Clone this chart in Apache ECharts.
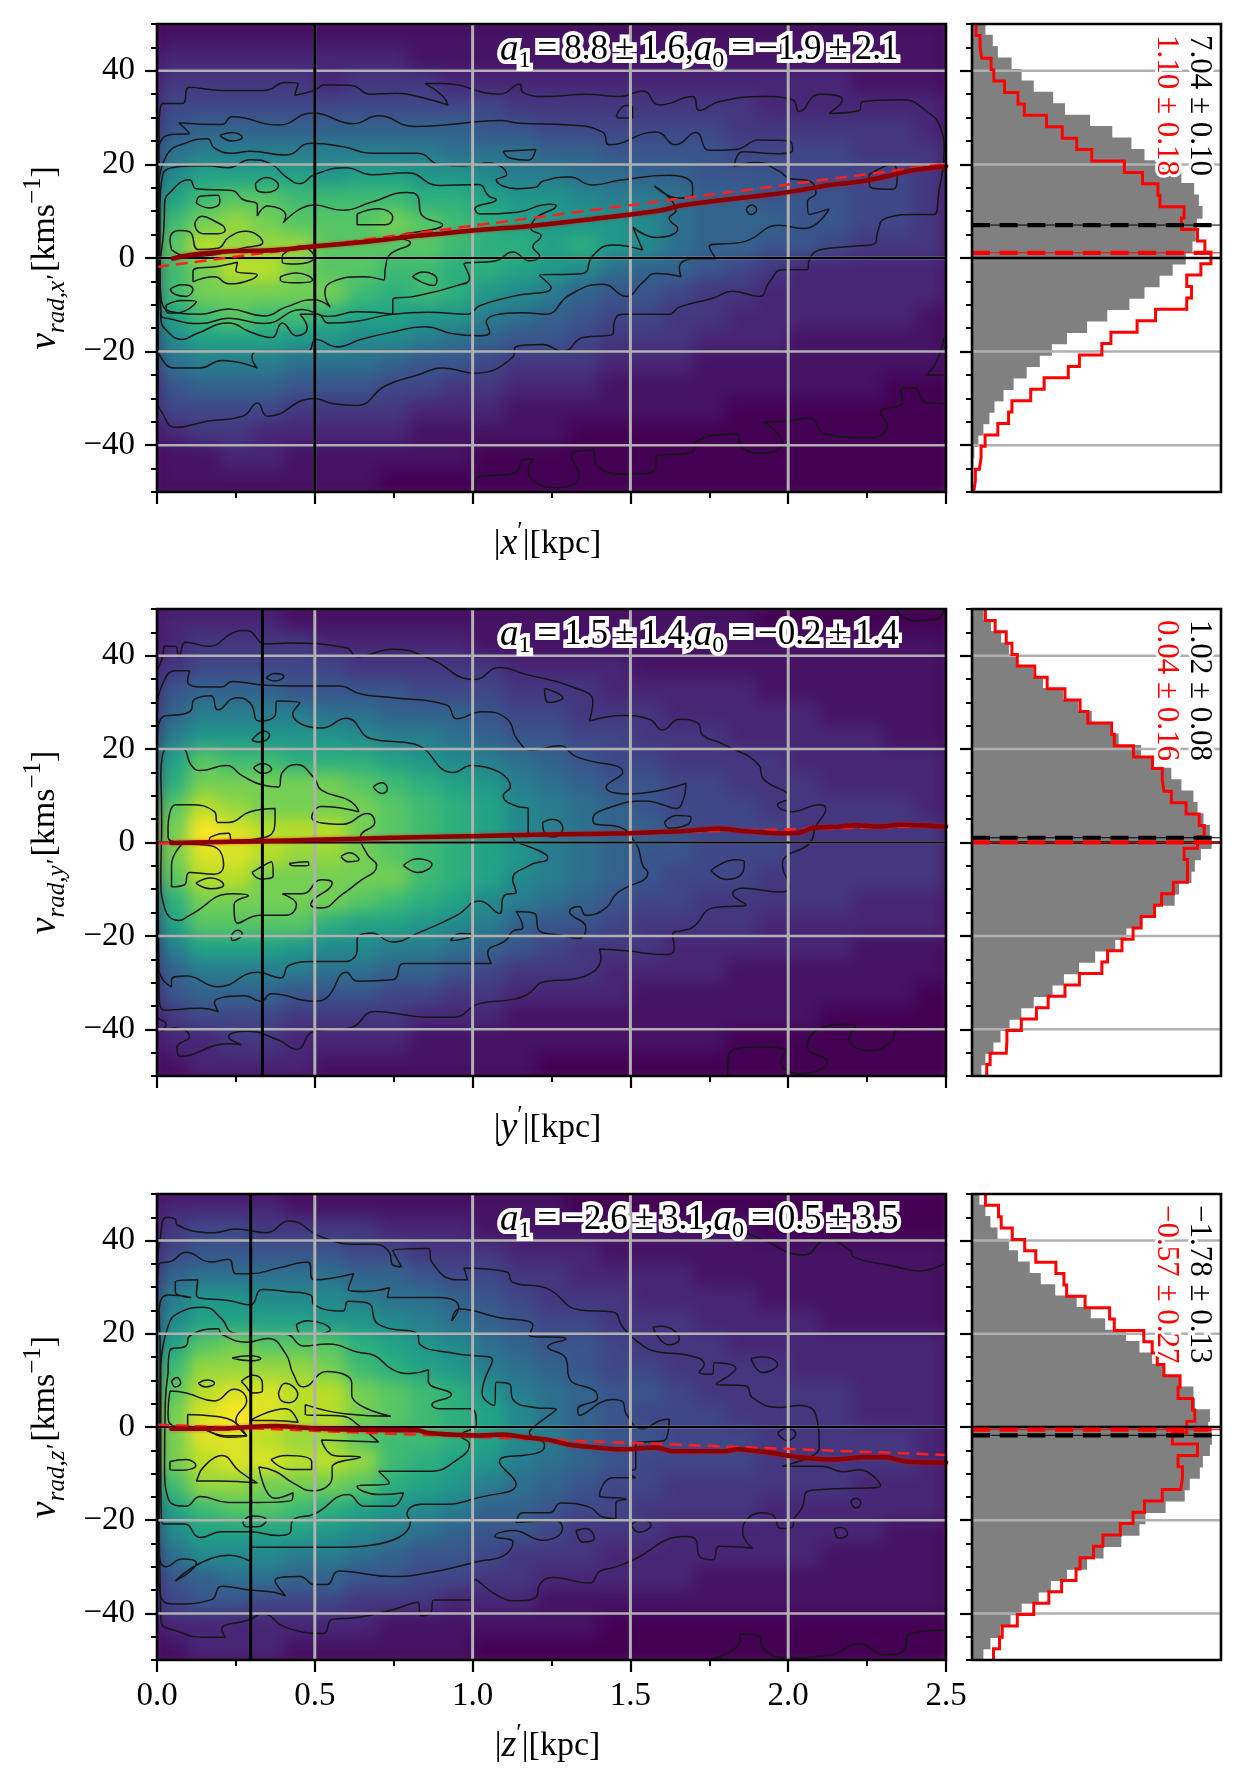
<!DOCTYPE html>
<html><head><meta charset="utf-8">
<style>html,body{margin:0;padding:0;background:#fff}#c{width:1246px;height:1784px}</style>
<script src="https://cdn.jsdelivr.net/npm/echarts@6/dist/echarts.min.js"></script>
</head><body><div id="c"></div>
<script>
const xBins=['0.05','0.15','0.25','0.35','0.45','0.55','0.65','0.75','0.85','0.95','1.05','1.15','1.25','1.35','1.45','1.55','1.65','1.75','1.85','1.95','2.05','2.15','2.25','2.35','2.45'];
const vBins=['47.5','42.5','37.5','32.5','27.5','22.5','17.5','12.5','7.5','2.5','-2.5','-7.5','-12.5','-17.5','-22.5','-27.5','-32.5','-37.5','-42.5','-47.5'];
const viridis=['#440154','#482475','#414487','#355f8d','#2a788e','#21918c','#22a884','#44bf70','#7ad151','#bddf26','#fde725'];
const heat1=[
[1,1,1,1,1,1,1,1,1,1,1,1,1,1,1,1,1,1,1,1,1,1,1,1,1],
[2,2,2,2,2,2,2,2,1,1,1,1,1,1,1,1,1,1,1,1,1,1,1,1,1],
[3,3,3,3,3,2,3,3,3,2,2,2,2,2,2,2,2,2,2,2,2,2,1,1,1],
[4,4,4,4,4,4,4,4,4,4,4,3,3,3,3,3,3,3,3,2,2,2,2,2,2],
[5,6,6,6,6,6,6,6,6,6,5,5,4,4,4,4,4,4,3,3,3,3,3,3,2],
[7,8,8,8,8,8,8,8,8,7,7,7,6,6,5,5,5,5,4,4,4,4,3,3,3],
[9,11,11,11,11,10,11,11,10,10,9,8,8,7,7,6,6,5,5,5,4,4,4,4,3],
[11,13,14,14,13,13,13,13,12,12,11,10,10,9,8,8,7,6,6,5,5,5,4,4,3],
[13,15,16,15,14,14,14,15,14,13,12,11,10,10,10,9,7,6,6,6,5,5,4,4,3],
[14,17,16,16,16,14,14,14,14,13,12,12,11,12,10,9,7,6,6,5,5,4,3,3,3],
[13,15,17,17,15,14,14,13,13,12,12,11,10,9,7,6,6,5,4,3,2,2,2,2,2],
[13,15,15,15,15,15,13,12,13,12,10,9,8,6,5,5,4,3,3,2,2,2,2,2,2],
[11,13,14,13,13,12,11,11,10,10,8,7,6,5,4,4,3,3,2,2,2,2,2,2,1],
[9,11,11,11,10,10,9,9,8,7,6,5,5,4,3,3,3,2,2,2,1,1,1,1,1],
[7,8,8,8,7,7,7,6,5,5,4,3,3,3,2,2,2,1,1,1,1,1,1,1,1],
[5,6,6,6,5,5,5,4,4,3,3,2,2,2,1,1,1,1,1,1,1,1,1,0,0],
[4,4,4,4,3,3,3,3,2,2,2,1,1,1,1,1,1,1,0,0,0,0,0,0,0],
[2,3,3,2,2,2,2,2,1,1,1,1,1,0,0,0,0,0,0,0,0,0,0,0,0],
[1,1,2,2,1,1,1,1,1,1,0,0,0,0,0,0,0,0,0,0,0,0,0,0,0],
[1,1,1,1,1,1,1,0,0,0,0,0,0,0,0,0,0,0,0,0,0,0,0,0,0]];
const heat2=[
[2,2,2,2,1,1,1,1,1,1,1,1,1,1,1,1,1,1,1,0,0,0,0,0,0],
[2,3,3,3,3,2,2,2,2,2,1,1,1,1,1,1,1,1,1,1,1,1,1,1,1],
[3,4,4,4,4,4,3,3,3,3,3,2,2,2,2,1,1,1,1,1,1,1,1,1,1],
[5,6,6,6,5,5,5,5,4,4,4,3,3,3,2,2,2,2,2,1,1,1,1,1,1],
[6,8,8,8,8,7,7,6,6,6,5,4,4,3,3,3,2,2,2,2,2,1,1,1,1],
[8,10,10,10,10,10,9,8,8,7,6,5,5,4,4,3,3,3,2,2,2,2,2,1,1],
[11,14,13,13,12,12,12,11,10,9,8,7,6,5,4,4,3,3,3,3,2,2,2,2,2],
[12,15,15,15,15,15,14,13,12,11,10,8,7,6,5,5,4,4,3,3,3,2,2,2,2],
[14,17,16,15,15,15,15,14,13,12,11,9,8,7,6,5,4,4,4,3,3,3,3,3,2],
[15,19,18,17,17,17,15,14,13,12,11,9,8,7,6,6,5,4,4,4,3,3,3,3,3],
[15,18,18,17,16,16,15,14,13,12,11,10,8,7,6,5,5,4,4,4,3,3,3,3,3],
[14,17,17,15,15,15,15,15,13,12,11,9,8,7,6,5,4,4,4,3,3,3,3,3,3],
[12,15,15,15,15,15,14,13,12,11,9,8,7,6,5,4,4,3,3,3,3,3,2,2,2],
[11,14,14,14,14,12,11,11,10,9,8,6,5,5,4,3,3,3,3,2,2,2,2,2,2],
[8,11,11,11,10,9,9,8,8,7,6,5,4,3,3,3,2,2,2,2,2,2,1,1,1],
[6,8,8,8,8,7,7,6,6,5,4,3,3,3,2,2,2,2,1,1,1,1,1,1,1],
[5,6,6,6,5,5,5,4,4,3,3,2,2,2,2,1,1,1,1,1,1,1,1,1,0],
[3,4,4,4,3,3,3,3,2,2,2,1,1,1,1,1,1,1,1,1,1,0,0,0,0],
[2,2,3,3,2,2,2,2,1,1,1,1,1,1,1,1,1,1,0,0,0,0,0,0,0],
[1,2,2,2,2,1,1,1,1,1,1,1,0,0,0,0,0,0,0,0,0,0,0,0,0]];
const heat3=[
[2,2,2,2,1,1,1,1,1,1,1,1,1,0,0,0,0,0,0,0,0,0,0,0,0],
[3,4,4,3,3,3,3,2,2,2,1,1,1,1,1,1,1,1,1,0,0,0,0,0,0],
[4,5,5,5,5,5,4,4,3,3,3,2,2,2,1,1,1,1,1,1,1,1,1,1,1],
[6,7,7,7,7,7,6,6,5,4,4,3,3,2,2,2,2,1,1,1,1,1,1,1,1],
[8,10,10,9,9,9,8,7,7,6,5,4,3,3,3,2,2,2,2,1,1,1,1,1,1],
[9,11,11,11,11,10,10,9,8,7,6,5,4,4,3,3,3,2,2,2,2,1,1,1,1],
[11,14,15,14,14,14,12,11,10,9,7,6,5,5,4,3,3,3,2,2,2,2,2,2,2],
[13,16,16,16,16,15,13,12,11,10,8,7,6,5,4,4,3,3,3,3,2,2,2,2,2],
[14,17,18,18,17,17,15,14,13,12,10,8,7,6,5,5,4,3,3,3,3,3,2,2,2],
[15,18,19,18,17,17,15,14,13,12,11,9,7,6,5,4,4,4,3,3,3,3,2,2,2],
[15,18,18,17,16,16,14,13,13,12,11,9,8,6,5,5,4,4,4,3,3,3,3,3,2],
[15,17,18,18,17,17,16,13,12,11,10,8,7,6,5,4,4,4,4,3,3,3,3,3,2],
[13,16,16,15,15,15,14,12,11,10,8,7,6,5,4,4,3,3,3,3,3,3,2,2,2],
[11,13,14,14,13,12,11,10,9,8,6,6,5,4,4,3,3,3,3,2,2,2,2,2,2],
[9,11,11,11,11,10,9,8,7,6,5,5,4,3,3,3,2,2,2,2,2,2,2,1,1],
[7,9,9,9,8,8,7,6,5,5,4,3,3,3,2,2,2,2,2,2,2,1,1,1,1],
[5,6,7,7,6,6,5,5,4,4,3,3,2,2,2,2,2,1,1,1,1,1,1,1,1],
[4,5,5,4,4,4,3,3,3,2,2,2,1,1,1,1,1,1,1,1,1,1,1,1,1],
[2,2,2,2,2,2,2,1,1,1,1,1,1,1,0,0,0,0,0,0,0,0,0,0,0],
[1,2,2,2,1,1,1,1,1,1,0,0,0,0,0,0,0,0,0,0,0,0,0,0,0]];

const contours1=[
[[.007,28.9],[.018,33],[.08,33],[.103,36.5],[.205,35.8],[.34,35.8],[.408,37.5],[.447,37.3],[.436,34.8],[.498,35.8],[.532,37],[.611,36.9],[.679,35],[.758,35.2],[.826,34.5],[.922,32.7],[.905,34.6],[.849,37.3],[.905,37.3],[1.086,35],[1.149,37.2],[1.159,35.4],[1.233,34.5],[1.36,35],[1.465,34.5],[1.539,35.7],[1.592,32.7],[1.697,34.5],[1.718,31.5],[1.78,33.4],[1.929,34.5],[2.014,33.8],[2.035,31.3],[2.098,35],[2.172,33.8],[2.13,30.9],[2.225,31.5],[2.235,33.4],[2.362,33.8],[2.436,31.5],[2.483,27.7],[2.494,23],[2.477,13.9],[2.462,9.3],[2.404,9.3],[2.309,8.5],[2.283,5.5],[2.277,3.2],[2.185,2.4],[2.098,1.7],[2.066,-.6],[2.061,-2.5],[1.982,-2.5],[1.94,-5.2],[1.908,-8.2],[1.824,-7.1],[1.761,-8.6],[1.655,-10.5],[1.623,-12],[1.476,-12],[1.449,-13.6],[1.444,-16.3],[1.349,-17],[1.286,-20],[1.222,-18.5],[1.138,-18.9],[1.127,-21.2],[1.007,-24.6],[.905,-23.5],[.826,-25],[.724,-27.3],[.634,-31.5],[.555,-31.1],[.498,-30],[.351,-33.8],[.318,-31],[.272,-33.8],[.159,-34.9],[.058,-36.2],[.012,-32.6],[.003,-31.1]],
[[0,21.6],[.012,25],[.046,26.4],[.103,26.6],[.069,28.9],[.205,28.5],[.238,30.2],[.385,28.4],[.493,31],[.622,28.7],[.702,30.4],[.815,28.1],[.928,28.5],[1.086,29.4],[1.149,28.8],[1.307,28.4],[1.412,26.9],[1.433,24.2],[1.581,26.9],[1.644,24.2],[1.707,26.8],[1.75,23],[1.834,23.2],[1.908,25.2],[2.004,25],[2.014,23],[1.972,22.3],[1.856,22.7],[1.829,19.6],[1.9,20.4],[1.972,18.5],[2.004,17],[2.061,16.6],[2.088,13.9],[2.061,12],[2.066,9.3],[2.13,10.5],[2.051,6.3],[1.971,7],[1.866,3.6],[1.75,2.4],[1.771,-.2],[1.697,-.2],[1.655,-2.1],[1.66,-4],[1.581,-3.3],[1.539,-5.2],[1.487,-8.2],[1.412,-5.6],[1.307,-7.9],[1.233,-12],[1.159,-11.7],[1.043,-13.6],[1.054,-15.9],[1.018,-16.6],[.939,-16.2],[.849,-14.7],[.747,-15.8],[.645,-17.4],[.572,-19],[.504,-17.4],[.476,-20],[.318,-20],[.301,-21.2],[.318,-23.5],[.205,-21.9],[.137,-23.5],[.058,-23.5],[.012,-21.2],[0,-18]],
[[.007,17],[.035,22.4],[.08,24.3],[.159,25.5],[.182,23.5],[.238,22.4],[.295,22.8],[.408,22],[.487,24.5],[.589,23.8],[.679,22.4],[.826,22.4],[.894,20],[.973,19.7],[1.052,20.3],[1.108,17.8],[1.075,16.7],[1.142,14.8],[1.2,15.1],[1.222,16.4],[1.307,17.3],[1.381,15.6],[1.466,16.6],[1.623,17.7],[1.697,15.4],[1.697,13.5],[1.655,12.8],[1.576,15.4],[1.644,10.1],[1.623,8.5],[1.65,6.3],[1.581,4.4],[1.508,6.6],[1.539,1.7],[1.444,2.8],[1.381,.5],[1.349,-3.3],[1.212,-3.7],[1.249,-6.3],[1.127,-8.2],[1.022,-10.2],[.984,-12],[.86,-11.6],[.747,-12],[.634,-13.5],[.543,-13.9],[.51,-12],[.453,-12],[.476,-15],[.442,-16.6],[.397,-13.9],[.363,-17],[.295,-15.8],[.227,-13.9],[.125,-16.2],[.08,-17.4],[.035,-15.8],[.012,-12.8]],
[[.009,10.2],[.024,18.6],[.159,19.7],[.227,19.3],[.295,21],[.363,20],[.408,17.4],[.453,15.9],[.498,17.8],[.6,19.3],[.679,17.8],[.792,18.2],[.894,15.5],[1.018,15.7],[1.052,13.2],[1.075,12.5],[1.007,10.5],[1.024,9.4],[1.142,9.8],[1.244,11.5],[1.265,11.2],[1.2,8.5],[1.185,6.3],[1.217,4.7],[1.191,2.4],[1.212,.5],[1.18,-.6],[1.127,1.3],[1.075,-.6],[.973,-1.3],[.99,-4.4],[.95,-5.9],[.815,-8.2],[.747,-8.9],[.747,-12],[.634,-11.5],[.54,-12.5],[.46,-11],[.34,-14],[.227,-12.9],[.137,-14],[.04,-13],[.012,-12],[.007,-2.8],[.009,3.3]],
[[.024,11.7],[.035,13.6],[.103,16.7],[.125,14.8],[.238,14.4],[.272,12.5],[.318,11.3],[.318,9],[.351,11.1],[.408,9],[.4,7.5],[.498,11.3],[.589,10.2],[.679,11.9],[.792,14],[.826,13.2],[.837,9.4],[.905,7.1],[.769,4.4],[.803,3.3],[.736,.6],[.724,-2],[.719,-4.7],[.656,-4],[.555,-5.1],[.532,-7.4],[.549,-10.5],[.498,-8.9],[.408,-10.5],[.34,-12.4],[.227,-10.9],[.137,-12],[.046,-11.5],[.012,-8.2],[.009,-2.8],[.021,5.6]],
[[.125,11.7],[.137,13.2],[.193,13.4],[.199,12],[.166,10.7]],
[[.12,7.5],[.142,8.9],[.171,8.3],[.216,6],[.193,5.2],[.148,5.2],[.123,6.3]],
[[.046,1.8],[.041,4],[.069,5.9],[.103,5.6],[.131,1.8],[.193,2.1],[.227,4.4],[.283,5.7],[.335,3.3],[.27,2.1],[.19,.8],[.1,.3]],
[[.041,-6.7],[.08,-5.7],[.114,-6.7],[.092,-8.2],[.058,-7.8]],
[[.029,-10.1],[.08,-9.1],[.125,-9.3],[.092,-11.2],[.046,-11.8],[.029,-11.2]],
[[.114,-5.1],[.114,-2.8],[.2,-1.7],[.255,-.9],[.25,-2.8],[.318,-3.6],[.295,-4.7],[.227,-5.5],[.182,-4]],
[[.312,15.9],[.346,17.2],[.385,15.5],[.346,14],[.318,14.4]],
[[.634,9.4],[.702,10.5],[.747,8.6],[.724,7.1],[.634,7.1]],
[[.391,-4],[.442,-3.2],[.493,-4.7],[.442,-5.3],[.391,-4.7]],
[[.397,.6],[.453,2.5],[.498,.2],[.442,-1.3],[.397,-.9]],
[[.809,-4],[.843,-3],[.887,-4.7],[.876,-5.9],[.837,-5.1]],
[[.199,26.2],[.238,26.8],[.27,25.8],[.238,25]],
[[1.097,22.8],[1.2,23.2],[1.177,20.9],[1.12,21.3]],
[[1.455,30.3],[1.486,32.6],[1.507,32.2],[1.507,29.9],[1.465,29.9]],
[[2.256,17.8],[2.33,20],[2.345,17],[2.33,14.7],[2.261,15.1]],
[[1.867,10.5],[1.885,11.3],[1.9,10.3],[1.88,9.3]]];
const open1=[
[[1.007,-49.8],[1.018,-46.8],[1.131,-46],[1.165,-43],[1.193,-43],[1.176,-45.3],[1.21,-48.3],[1.265,-49.1],[1.338,-46.4],[1.312,-42.2],[1.381,-41],[1.391,-44],[1.486,-46.2],[1.581,-44.9],[1.581,-42.6],[1.697,-41.4],[1.708,-39.2],[1.834,-37.6],[1.855,-40.7],[1.919,-41.7],[1.982,-39.5],[1.924,-35],[1.972,-35],[2.066,-34.2],[2.119,-37.6],[2.256,-38.4],[2.314,-35.7],[2.293,-33],[2.362,-30.8],[2.356,-28.1],[2.398,-27.7],[2.436,-30.8],[2.494,-31.1]],
[[2.494,-25],[2.436,-25],[2.468,-22.4],[2.494,-17]]];

const contours2=[
[[0,36.8],[.018,39.8],[.024,42],[.058,42],[.069,39.8],[.092,42.9],[.165,42],[.238,44.8],[.283,45.4],[.345,42.5],[.42,42.7],[.6,41.7],[.634,39.8],[.747,41.4],[.86,39.5],[1.007,34.9],[1.085,37.5],[1.169,36],[1.317,33.3],[1.381,30.2],[1.37,26],[1.476,27.2],[1.56,26.4],[1.602,24.1],[1.655,26.4],[1.713,25.6],[1.729,23],[1.792,21.1],[1.908,16.5],[1.919,13.8],[2.003,9.6],[1.966,8.1],[2.014,6.6],[2.098,8.1],[2.119,7.3],[2.088,3.5],[2.066,-.3],[1.992,-3],[1.982,-4.9],[2.003,-9.5],[1.982,-10.6],[1.856,-9.8],[1.824,-11],[1.866,-13.3],[1.761,-14],[1.697,-18.2],[1.634,-19.8],[1.639,-22.8],[1.613,-24],[1.486,-23.2],[1.402,-22.8],[1.407,-24.7],[1.317,-29.3],[1.233,-29.7],[1.169,-32.7],[1.117,-33.7],[1.022,-34.5],[.939,-37.4],[.86,-37.4],[.69,-36.2],[.611,-39.7],[.498,-40.4],[.442,-44.3],[.385,-42.3],[.283,-40.4],[.227,-41.6],[.267,-43.3],[.227,-43.1],[.075,-45.8],[.063,-43.9],[.103,-41.6],[.058,-39.7],[.012,-40.4],[.029,-38.9],[0,-37]],
[[0,28.7],[.018,34],[.058,36.8],[.103,36.8],[.097,34.5],[.148,33.3],[.205,33.3],[.238,34.5],[.335,33.7],[.43,33.5],[.577,33.5],[.645,31.8],[.747,31],[.916,29.5],[.95,26.5],[1.03,28],[1.108,26.5],[1.142,22],[1.188,19.8],[1.275,20.7],[1.328,18.4],[1.476,15],[1.423,11.9],[1.497,10.4],[1.676,12.7],[1.666,8.9],[1.645,7.3],[1.602,8.1],[1.55,8.9],[1.444,7.7],[1.381,5],[1.391,3.9],[1.455,3.5],[1.518,-.3],[1.539,-4.9],[1.555,-6.4],[1.455,-11],[1.423,-14],[1.359,-15.6],[1.338,-13.7],[1.307,-14.8],[1.359,-18.2],[1.338,-20.5],[1.275,-19.8],[1.212,-19],[1.196,-15.2],[1.138,-14.8],[1.159,-18.2],[1.127,-19],[1.106,-20.9],[1.048,-23.6],[1.059,-25.9],[.86,-25.9],[.781,-25.9],[.747,-29.4],[.634,-29.7],[.6,-27.8],[.538,-33.2],[.498,-34],[.363,-32.4],[.329,-34],[.278,-32.8],[.182,-34.3],[.194,-36.2],[.137,-35.5],[.024,-35.9],[.007,-32.4]],
[[0,21.9],[.012,26.5],[.103,28],[.12,30.7],[.171,31.4],[.193,28.4],[.25,31],[.295,29.9],[.323,26],[.374,27.2],[.38,30.3],[.453,29.9],[.43,27.6],[.521,24.5],[.6,26.6],[.679,22.2],[.815,21.1],[.939,15],[.995,16.5],[1.12,11.9],[1.097,10],[1.142,7.7],[1.176,7.3],[1.176,2],[1.127,1.2],[1.233,-2.6],[1.238,-3.4],[1.18,-4.9],[1.127,-7.9],[1.138,-10.6],[1.1,-11.4],[1.085,-15.2],[1.022,-12.5],[.95,-15.6],[.826,-19.4],[.747,-21.3],[.679,-19.4],[.634,-20.9],[.634,-22.9],[.594,-25.5],[.498,-25.5],[.419,-26.3],[.392,-29],[.318,-27.8],[.193,-30.9],[.092,-28.6],[.046,-29.4],[.046,-30.9],[.012,-28.6],[0,-24]],
[[.012,14.2],[.029,20],[.08,20],[.109,16.5],[.137,15.4],[.218,16.5],[.272,14.2],[.335,12.3],[.385,11.9],[.397,15],[.442,16.7],[.498,13.8],[.521,11.2],[.611,8.9],[.64,6.6],[.521,7.7],[.49,5.4],[.589,3.9],[.667,6.2],[.69,4.3],[.645,1.2],[.667,-2.6],[.696,-4.9],[.634,-8.7],[.589,-11],[.521,-14],[.487,-13.3],[.555,-8.7],[.521,-8],[.46,-11],[.397,-11],[.442,-13.3],[.408,-15.6],[.329,-15.6],[.255,-17.3],[.244,-13.3],[.289,-11.4],[.238,-11],[.103,-15.6],[.069,-16.7],[.024,-14],[.012,-7.2],[.015,4.3]],
[[.035,3.5],[.058,8.1],[.103,8.1],[.182,6.6],[.193,4.3],[.227,4.3],[.295,6.6],[.374,7.3],[.374,5],[.346,1.2],[.238,.5],[.227,2],[.171,1.2],[.16,.1],[.069,.1],[.035,1.2]],
[[.08,-.3],[.171,-.7],[.211,-4.9],[.182,-6.8],[.103,-6.4],[.086,-9.1],[.046,-9.5],[.046,-4.9]],
[[.123,-8.7],[.171,-7.6],[.211,-9.1],[.171,-9.9]],
[[.301,-6.4],[.363,-4.1],[.368,-7.2],[.329,-7.8]],
[[.419,-4.5],[.476,-4.1],[.481,-4.9],[.431,-5]],
[[.583,-3],[.611,-2.2],[.64,-3.7],[.606,-4.1]],
[[.306,16],[.335,16.9],[.363,15.7],[.335,14.8]],
[[.301,21.9],[.34,23.8],[.357,23],[.323,21.5]],
[[.346,35.2],[.374,36.2],[.402,35.6],[.374,34.6]],
[[.685,11.9],[.713,12.8],[.73,11.5],[.713,10.5]],
[[.781,-4.9],[.826,-3.5],[.871,-4.7],[.826,-6.4]],
[[1.228,33],[1.286,31],[1.24,30]],
[[1.608,4.3],[1.645,5.8],[1.692,5.4],[1.682,3.9],[1.623,3.1]],
[[1.222,4.3],[1.254,5],[1.286,3.1],[1.259,1.2],[1.228,2]],
[[1.755,-6],[1.834,-3.7],[1.861,-4.1],[1.856,-6.4],[1.803,-7.9]],
[[.93,-21],[.96,-19.5],[1.0,-19.8],[.96,-20.8]],
[[.235,-20],[.255,-18.8],[.27,-19.5],[.24,-21]]];
const open2=[
[[1.808,-49.9],[1.813,-45.3],[1.919,-43.8],[1.992,-44.6],[1.977,-46.9],[2.035,-49.5],[2.125,-46.9],[2.061,-43.8],[2.098,-40],[2.182,-38.9],[2.214,-39.2],[2.193,-42],[2.262,-44.6],[2.33,-42.3],[2.34,-40.4],[2.393,-39.7],[2.494,-40.4]],
[[2.34,49.9],[2.4,47.5],[2.47,47.8],[2.494,49.9]]];

const contours3=[
[[0,35],[.009,40],[.03,45],[.058,44.6],[.063,43.4],[.182,41.7],[.249,42.5],[.345,41.7],[.419,44.2],[.521,40.8],[.634,39.2],[.69,39.2],[.736,37.5],[.747,34.8],[.775,34.4],[.747,37.9],[.86,38.3],[.871,35.4],[.95,31.6],[.984,31.6],[.973,34.1],[1.107,33.3],[1.128,31],[1.233,29.8],[1.339,25.1],[1.444,24.7],[1.476,21.4],[1.529,18],[1.581,16.2],[1.676,15.5],[1.734,13.4],[1.718,11.7],[1.76,11.3],[1.766,13.8],[1.834,12.6],[1.771,9.2],[1.866,8.8],[1.887,6.3],[1.971,4.2],[2.035,4.6],[2.088,2.5],[2.098,-4.2],[2.098,-4.6],[1.982,-8.4],[2.108,-8.4],[2.172,-9.6],[2.225,-9.2],[2.293,-12.6],[2.108,-13.4],[2.061,-13.8],[2.045,-17.2],[2.019,-19.7],[2.014,-21.4],[1.977,-21.8],[1.951,-18.9],[1.919,-18.4],[1.866,-20.1],[1.856,-22.6],[1.887,-26],[1.782,-25.6],[1.761,-28.5],[1.718,-27.7],[1.708,-24.3],[1.676,-23.5],[1.497,-28.9],[1.444,-30.2],[1.402,-31],[1.37,-33.5],[1.254,-32.3],[1.212,-33.9],[1.201,-36.5],[1.138,-37.3],[1.075,-36],[1.007,-32.8],[.995,-37.1],[.877,-37.1],[.866,-40],[.837,-40.5],[.826,-37.6],[.747,-39.2],[.634,-40.9],[.555,-41.3],[.527,-44.3],[.408,-43],[.334,-40.1],[.295,-41.3],[.205,-43.4],[.216,-45.1],[.148,-45.1],[.069,-43.9],[.012,-41.3]],
[[0,27.4],[.007,35],[.046,35.6],[.092,37.5],[.17,35.4],[.227,36],[.25,32.9],[.295,32.9],[.384,34.1],[.476,35.4],[.498,31.6],[.623,32.9],[.606,29.5],[.657,29.1],[.736,29.9],[.73,27.8],[.894,27.8],[.956,25.7],[.934,22.8],[.958,25.3],[1.075,23.6],[1.191,21.8],[1.18,19.7],[1.296,18.9],[1.238,17.2],[1.296,14.7],[1.306,10.5],[1.391,7.5],[1.396,6.3],[1.333,3.8],[1.338,2.5],[1.444,5.9],[1.476,5.4],[1.486,2.9],[1.539,-.4],[1.591,1.3],[1.623,1.7],[1.607,-2.9],[1.517,-3.4],[1.517,-8.8],[1.497,-9.6],[1.517,-10.9],[1.444,-10.9],[1.402,-14.7],[1.486,-15.5],[1.454,-16.3],[1.454,-19.7],[1.412,-19.3],[1.37,-17.2],[1.28,-16.3],[1.244,-18.4],[1.159,-18.4],[1.138,-20.5],[1.264,-20.1],[1.285,-21.8],[1.222,-24.3],[1.128,-22.2],[1.07,-23.5],[1.128,-24.7],[1.096,-27.7],[1.022,-28.8],[.86,-31.3],[.747,-32.1],[.577,-30.9],[.538,-33.8],[.498,-33.8],[.453,-32.1],[.374,-33],[.408,-36.3],[.374,-35.5],[.295,-35],[.205,-34.2],[.171,-37.1],[.058,-38],[.012,-36.3],[.003,-28.8]],
[[.01,18.2],[.007,24.9],[.035,28.3],[.108,27.8],[.058,29],[.058,31.2],[.129,31.6],[.125,28.4],[.238,27],[.295,26.2],[.334,29.5],[.408,29.1],[.487,28.3],[.498,26.2],[.589,24.9],[.606,27],[.668,26.6],[.702,22],[.826,19.9],[.832,17.8],[.95,15.7],[1.063,14.4],[1.03,7.3],[1.069,4.6],[1.075,9.6],[1.117,9.2],[1.128,5.9],[1.196,4.2],[1.265,3.8],[1.201,.4],[1.18,-1.3],[1.228,-3.8],[1.212,-5.4],[1.085,-7.5],[1.138,-12.2],[1.022,-15.1],[.894,-16.6],[.837,-16.6],[.792,-18.7],[.803,-20.4],[.679,-25.4],[.589,-25.8],[.43,-25.8],[.295,-25.8],[.295,-28.8],[.227,-27.5],[.058,-33],[.125,-29.2],[.08,-28.3],[.029,-30],[.007,-27.1]],
[[.012,13.2],[.035,21.6],[.069,24.5],[.148,25.7],[.205,23.2],[.238,20.3],[.295,19.9],[.408,19.9],[.464,17.4],[.543,17.8],[.634,16.1],[.69,15.3],[.747,12.3],[.803,11.5],[.86,12.3],[.86,9.8],[.933,6.9],[.871,4.8],[.894,3.9],[.995,3.9],[1.012,.6],[.962,-1.9],[.99,-3.6],[.962,-6.5],[.86,-9.5],[.702,-9.5],[.736,-12],[.634,-12.8],[.702,-14.5],[.781,-14.1],[.747,-17],[.656,-17],[.606,-14.5],[.498,-18.7],[.431,-20],[.419,-22.9],[.385,-23.3],[.295,-22.5],[.205,-22.5],[.137,-23.7],[.086,-20.8],[.018,-20.8],[.012,-7.8]],
[[.035,11.5],[.041,16.5],[.092,17.4],[.103,19.5],[.193,21.1],[.205,19.9],[.284,18.2],[.351,19],[.408,15.7],[.431,11.5],[.464,8.6],[.538,11.9],[.617,9.4],[.617,6.9],[.741,2.3],[.6,2.8],[.47,4.8],[.47,2.7],[.59,2.3],[.634,.6],[.702,-3.2],[.521,-2.8],[.56,-6.1],[.645,-6.5],[.555,-8.6],[.555,-10.7],[.493,-13.7],[.431,-12],[.374,-9.5],[.323,-8.6],[.374,-15.3],[.431,-14.1],[.425,-15.8],[.318,-16.2],[.227,-16.2],[.137,-14.9],[.092,-17],[.035,-15.3],[.024,-8.6],[.026,4.8]],
[[.041,7.7],[.092,7.3],[.182,5.6],[.244,8.1],[.284,5.6],[.25,1.4],[.284,-1.9],[.227,-2.2],[.137,-.3],[.05,.3],[.035,3]],
[[.041,-7.4],[.092,-7],[.123,-8.2],[.08,-9.3],[.041,-9.1]],
[[.272,-20.4],[.301,-19.1],[.346,-20],[.318,-21.4],[.284,-21.4]],
[[.046,9.8],[.063,10.6],[.075,9.4],[.058,8.6]],
[[.131,9.4],[.159,10.1],[.182,9.4],[.154,8.6]],
[[.267,9.8],[.306,11.1],[.334,9.4],[.334,7.7],[.306,7.3],[.278,9]],
[[.385,7.3],[.406,9.4],[.446,6.9],[.418,5.2],[.395,5.6]],
[[.097,2.7],[.182,2.3],[.238,1.4],[.284,-1.9],[.227,-1.9],[.137,-.3],[.097,.6]],
[[.295,1.4],[.408,3.9],[.447,1],[.362,1.4]],
[[.137,-9.5],[.205,-6.1],[.261,-9.5],[.318,-12],[.193,-11.6],[.125,-11.6]],
[[.361,-7],[.41,-6.1],[.49,-7.4],[.49,-9.1],[.42,-9.1]],
[[.442,22],[.476,22.8],[.549,20.9],[.498,19.9],[.458,19.9]],
[[.238,14.8],[.295,15.3],[.329,14.7],[.295,14.2]],
[[1.328,-22.2],[1.359,-21.8],[1.386,-23.9],[1.349,-24.7]],
[[1.502,-21],[1.539,-19.9],[1.565,-21],[1.528,-22.6]],
[[1.882,14.7],[1.919,15.1],[1.966,13.4],[1.919,11.7]],
[[2.146,-21.8],[2.167,-21.5],[2.188,-23],[2.161,-23.9]],
[[2.198,-15.9],[2.214,-15.3],[2.23,-16.3],[2.214,-17.4]],
[[1.966,-1.3],[1.993,-.3],[2.024,-1.4],[1.998,-2.9]],
[[1.571,21.4],[1.597,21.6],[1.655,18.9],[1.623,17.6]]];
const open3=[
[[1.755,-49.9],[1.845,-46.5],[1.851,-44.4],[1.908,-44.8],[1.919,-47.4],[1.993,-49.5],[2.129,-49],[2.225,-46.5],[2.304,-48.9],[2.372,-47.4],[2.377,-44.8],[2.494,-43.6]],
[[1.761,44.8],[1.919,40.2],[2.051,36.9],[2.119,40],[2.199,37.7],[2.204,36.6],[2.341,34.4],[2.414,33.5],[2.494,35]]];

const median1=[[.05,-.1],[.1,.6],[.15,1],[.25,1.5],[.35,1.6],[.42,1.9],[.5,2.5],[.62,3.2],[.72,3.9],[.83,4.8],[.9,5.2],[1.0,5.9],[1.08,6.3],[1.16,6.7],[1.34,8],[1.5,9.3],[1.6,10.2],[1.66,11.2],[1.82,12.6],[1.96,13.7],[2.04,14.5],[2.12,15.5],[2.21,16.2],[2.29,17.1],[2.39,18.7],[2.5,19.6]];
const median2=[[.046,-.1],[.334,.3],[.5,.6],[.634,.8],[.86,1.2],[1.022,1.4],[1.233,1.7],[1.497,2],[1.655,2.4],[1.782,3],[1.866,2.4],[1.972,2],[2.035,2.1],[2.077,3.1],[2.162,3.4],[2.214,3.7],[2.288,3.4],[2.351,3.8],[2.5,3.4]];
const median3=[[.046,-.4],[.227,-.3],[.295,0],[.374,.2],[.498,-.3],[.634,-.6],[.826,-.7],[.86,-1.3],[1.018,-1.8],[1.097,-1.6],[1.165,-2.2],[1.243,-2.8],[1.307,-3.8],[1.391,-4.4],[1.466,-4.8],[1.581,-4.4],[1.634,-5.2],[1.803,-5.2],[1.834,-4.8],[1.951,-5.6],[2.035,-6.5],[2.141,-7],[2.236,-6.5],[2.309,-6.5],[2.373,-7.4],[2.5,-7.6]];
const fit1=[[0,-1.9],[2.5,20.1]];
const fit2=[[0,-.2],[2.5,3.55]];
const fit3=[[0,.5],[2.5,-6]];

const histBins=['k0','k1','k2','k3','k4','k5','k6','k7','k8','k9','k10','k11','k12','k13','k14','k15','k16','k17','k18','k19','k20','k21','k22','k23','k24','k25','k26','k27','k28','k29','k30','k31','k32','k33','k34','k35','k36','k37','k38','k39','k40'];
const gray1=[108,130,145,186,216,252,310,345,420,486,543,582,640,692,730,744,755,738,735,725,705,666,627,582,537,471,411,351,306,270,231,192,162,135,120,102,87,75,72,70,68];
const red1=[80,92,97,125,133,165,205,224,290,337,380,425,522,576,622,628,700,692,740,762,780,750,708,722,708,615,560,482,455,388,355,283,243,187,177,145,107,95,90,78,73];
const gray2=[103,125,155,178,205,250,280,340,385,425,480,505,572,610,662,692,728,740,758,777,782,750,732,722,685,672,610,575,528,495,435,387,342,308,252,215,180,153,132,108,96];
const red2=[108,137,170,187,203,255,292,345,390,413,484,492,549,606,635,640,662,706,745,760,740,700,710,710,668,633,612,572,548,515,472,455,388,345,295,260,215,172,170,122,112];
const gray3=[90,108,123,144,178,205,240,273,316,380,422,465,527,567,605,640,690,728,733,777,772,783,777,756,747,717,702,645,585,567,513,460,411,351,303,267,216,183,153,123,102];
const red3=[108,147,155,188,225,258,318,342,350,405,478,492,580,605,620,640,688,682,725,732,708,665,740,682,695,690,635,582,548,510,458,430,390,378,335,297,252,203,158,150,132];
const means1=[7.04,1.10], means2=[1.02,.04], means3=[-1.78,-.57];
const yTicks=[-40,-20,0,20,40];
const xLabels=[0,.5,1,1.5,2,2.5];

const F='"Liberation Serif"';
const rich={
 n:{fontFamily:F,fontSize:34,lineHeight:32,verticalAlign:'middle'},
 i:{fontFamily:F,fontStyle:'italic',fontSize:38,lineHeight:32,verticalAlign:'middle'},
 sub:{fontFamily:F,fontStyle:'italic',fontSize:25,lineHeight:22,padding:[24,0,0,0],verticalAlign:'middle'},
 sup:{fontFamily:F,fontSize:25,lineHeight:22,padding:[0,0,24,0],verticalAlign:'middle'}
};
const TS='\u2009';
const note=(a,b,c,d)=>`{i|a}{s|1}{n|${TS}=${TS}${a}${TS}±${TS}${b},}{i|a}{s|0}{n|${TS}=${TS}${c}${TS}±${TS}${d}}`;
const panels=[
 {top:24,h:468,heat:heat1,closed:contours1,open:open1,median:median1,fit:fit1,vline:.5,gray:gray1,red:red1,means:means1,
  xn:"x",yn:"rad,x′",note:note('8.8','1.6','−1.9','2.1'),t1:'7.04 ± 0.10',t2:'1.10 ± 0.18'},
 {top:609,h:467,heat:heat2,closed:contours2,open:open2,median:median2,fit:fit2,vline:.334,gray:gray2,red:red2,means:means2,
  xn:"y",yn:"rad,y′",note:note('1.5','1.4','−0.2','1.4'),t1:'1.02 ± 0.08',t2:'0.04 ± 0.16'},
 {top:1194,h:466,heat:heat3,closed:contours3,open:open3,median:median3,fit:fit3,vline:.297,gray:gray3,red:red3,means:means3,
  xn:"z",yn:"rad,z′",note:note('−2.6','3.1','0.5','3.5'),t1:'−1.78 ± 0.13',t2:'−0.57 ± 0.27'}
];
const L=157,W=789,HL=972,HW=249,Z=1;
const grid=[],xAxis=[],yAxis=[],series=[],graphic=[],heatIdx=[];
const baseLine={type:'line',symbol:'none',showSymbol:false,animation:false,silent:true,zlevel:Z};
function line(xi,yi,data,ls,z,smooth){series.push({...baseLine,xAxisIndex:xi,yAxisIndex:yi,data,z,smooth:smooth||false,lineStyle:ls});}
function vAxes(g,major,minorOffset){
 const base={type:'value',gridIndex:g,min:-50,max:50,interval:5,zlevel:Z,splitLine:{show:false},axisLine:{show:false,onZero:false}};
 const a=yAxis.length;
 yAxis.push({...base,position:'left',
  axisTick:{show:true,length:12,customValues:yTicks,lineStyle:{color:'#000',width:2.2}},
  axisLabel:{show:major,customValues:yTicks,margin:22,fontFamily:F,fontSize:33,color:'#000',formatter:v=>String(v).replace('-','−')}});
 yAxis.push({...base,position:'right',offset:-minorOffset,axisLabel:{show:false},
  axisTick:{show:true,inside:true,length:6,lineStyle:{color:'#000',width:2}}});
 return a;
}
panels.forEach((p,idx)=>{
 const g=grid.length;
 grid.push({left:L,top:p.top,width:W,height:p.h,show:true,borderColor:'#000',borderWidth:2.6,backgroundColor:'transparent',z:20,zlevel:Z});
 const last=idx===2;
 const xv=xAxis.length;
 xAxis.push({type:'value',gridIndex:g,min:0,max:2.5,interval:.5,zlevel:Z,position:'bottom',splitLine:{show:false},axisLine:{show:false,onZero:false},
  axisTick:{show:true,length:12,lineStyle:{color:'#000',width:2.2}},
  minorTick:{show:true,splitNumber:2,length:6,lineStyle:{color:'#000',width:2}},
  axisLabel:{show:last,margin:20,fontFamily:F,fontSize:33,color:'#000',formatter:v=>v.toFixed(1)},
  name:`{n||}{i|${p.xn}}{sup|′}{n||[kpc]}`,nameLocation:'middle',nameGap:last?70:36,
  nameTextStyle:{rich,color:'#000',padding:[0,8,0,0]}});
 const xc=xAxis.length;
 xAxis.push({type:'category',gridIndex:g,data:xBins,show:false,zlevel:Z});
 const yv=vAxes(g,true,W);
 yAxis[yv].name=`{i|v}{sub|${p.yn}} {n|[kms}{sup|−1}{n|]}`;
 yAxis[yv].nameLocation='middle';yAxis[yv].nameRotate=90;yAxis[yv].nameGap=96;
 yAxis[yv].nameTextStyle={rich,color:'#000'};
 const yc=yAxis.length;
 yAxis.push({type:'category',gridIndex:g,data:vBins,inverse:true,show:false,zlevel:Z});
 const cells=[];
 p.heat.forEach((row,j)=>row.forEach((val,i)=>cells.push([i,j,val])));
 heatIdx.push(series.length);
 series.push({type:'heatmap',xAxisIndex:xc,yAxisIndex:yc,data:cells,animation:false,silent:true,zlevel:0,z:2,progressive:0,itemStyle:{borderWidth:0},emphasis:{disabled:true}});
 const cs={color:'#161616',width:1.5};
 p.closed.forEach(c=>line(xv,yv,c.concat([c[0]]),cs,3,.5));
 p.open.forEach(c=>line(xv,yv,c,cs,3,.5));
 yTicks.forEach(v=>line(xv,yv,[[0,v],[2.5,v]],{color:'#b0b0b0',width:2.5},4));
 xLabels.slice(1,-1).forEach(v=>line(xv,yv,[[v,-50],[v,50]],{color:'#b0b0b0',width:3},4));
 line(xv,yv,[[0,0],[2.5,0]],{color:'#000',width:1.8},5);
 line(xv,yv,[[p.vline,-50],[p.vline,50]],{color:'#000',width:3},5);
 line(xv,yv,p.fit,{color:'#ff2020',width:2.5,type:[12,7]},6);
 line(xv,yv,p.median,{color:'#8b0000',width:4.5,shadowColor:'rgba(255,0,0,.55)',shadowBlur:3,cap:'round'},7,.2);
 const hg=grid.length;
 grid.push({left:HL,top:p.top,width:HW,height:p.h,show:true,borderColor:'#000',borderWidth:2.6,backgroundColor:'transparent',z:20,zlevel:Z});
 const hx=xAxis.length;
 xAxis.push({type:'value',gridIndex:hg,min:68,max:810,show:false,zlevel:Z,splitLine:{show:false}});
 const hy=vAxes(hg,false,HW);
 const hc=yAxis.length;
 yAxis.push({type:'category',gridIndex:hg,data:histBins,inverse:true,show:false,zlevel:Z});
 series.push({type:'bar',xAxisIndex:hx,yAxisIndex:hc,data:p.gray,barWidth:'112%',itemStyle:{color:'#808080'},animation:false,silent:true,zlevel:Z,z:2});
 yTicks.filter(v=>v).forEach(v=>line(hx,hy,[[68,v],[810,v]],{color:'#b0b0b0',width:2.5},3));
 const step=[];
 p.red.forEach((v,k)=>{step.push([v,50-k*100/41]);step.push([v,50-(k+1)*100/41]);});
 line(hx,hy,step,{color:'#ff0000',width:3,join:'miter'},4);
 line(hx,hy,[[68,0],[810,0]],{color:'#000',width:2.4},5);
 line(hx,hy,[[68,p.means[0]],[810,p.means[0]]],{color:'#000',width:1},5);
 line(hx,hy,[[68,p.means[0]],[810,p.means[0]]],{color:'#000',width:4.2,type:[18,9.7]},5);
 line(hx,hy,[[68,p.means[1]],[810,p.means[1]]],{color:'#ff0000',width:1},6);
 line(hx,hy,[[68,p.means[1]],[810,p.means[1]]],{color:'#ff0000',width:4.2,type:[18,9.7]},6);
 const m=60,r=(x,y,w,h,fill,z,zl)=>graphic.push({type:'rect',shape:{x,y,width:w,height:h},style:{fill},z,zlevel:zl,silent:true});
 r(L-12,p.top-12,W+24,p.h+24,'#440154',-1,0);
 r(L-m,p.top-m,m,p.h+2*m,'#fff',-10,Z);
 r(L+W,p.top-m,m,p.h+2*m,'#fff',-10,Z);
 r(L,p.top-m,W,m,'#fff',-10,Z);
 r(L,p.top+p.h,W,m,'#fff',-10,Z);
 const lw=8,tok=o=>({fontFamily:F,verticalAlign:'middle',fill:'#000',stroke:'#fff',lineWidth:lw,...o});
 const nr={n:tok({fontSize:35,lineHeight:36}),i:tok({fontStyle:'italic',fontSize:37,lineHeight:36}),s:tok({fontSize:24,lineHeight:22,padding:[22,0,0,0]})};
 graphic.push({type:'text',x:500,y:p.top+26,z:30,zlevel:Z,silent:true,style:{text:p.note,rich:nr,textVerticalAlign:'middle',textAlign:'left',stroke:'#fff',lineWidth:lw}});
 const rot=(x,text,fill)=>graphic.push({type:'text',x,y:p.top+11,rotation:-Math.PI/2,z:30,zlevel:Z,silent:true,style:{text,fill,stroke:'#fff',lineWidth:6,fontFamily:F,fontSize:31,textAlign:'left',textVerticalAlign:'middle'}});
 rot(1199,p.t1,'#000');
 rot(1166,p.t2,'#ff0000');
});
const chart=echarts.init(document.getElementById('c'),null,{renderer:'canvas',width:1246,height:1784});
chart.setOption({animation:false,grid,xAxis,yAxis,series,graphic,
 visualMap:{show:false,seriesIndex:heatIdx,dimension:2,min:0,max:19,inRange:{color:viridis}}});
function blurLayer(){
 const c=document.querySelector('#c canvas[data-zr-dom-id="zr_0"]')||document.querySelector('#c canvas');
 if(c)c.style.filter='blur(8px)';
}
blurLayer();chart.on('finished',blurLayer);requestAnimationFrame(blurLayer);
</script></body></html>
